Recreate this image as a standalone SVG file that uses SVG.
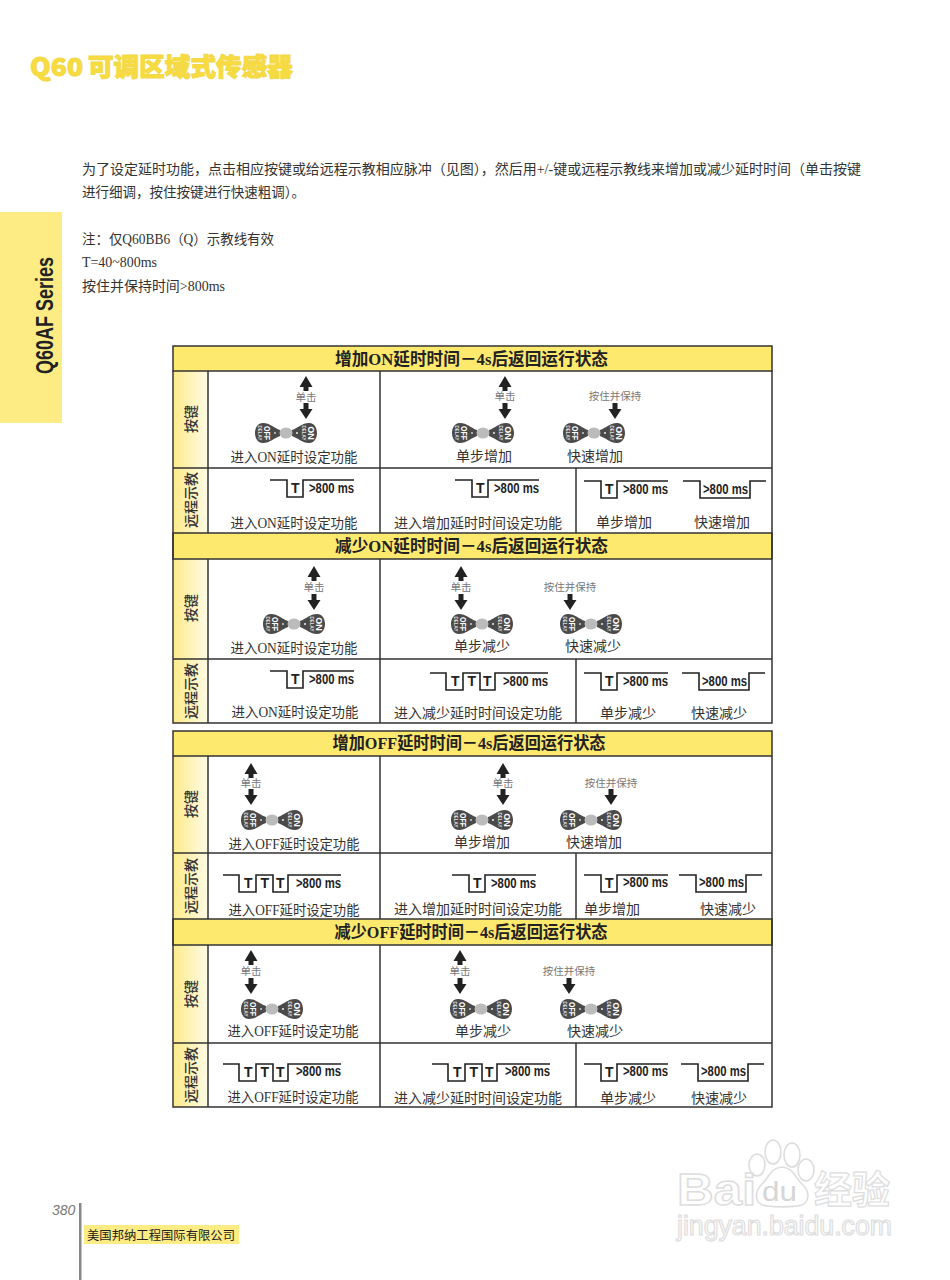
<svg xmlns="http://www.w3.org/2000/svg" width="950" height="1280" viewBox="0 0 950 1280">
<style>
text{font-family:"Liberation Serif","Noto Sans CJK SC",serif;fill:#2b2b2b}
.body{font-size:14px;fill:#333}
.cap{font-size:14px;text-anchor:middle;fill:#333}
.hd{font-size:17px;font-weight:700;text-anchor:middle;fill:#222}
.side{font-size:14px;text-anchor:middle;font-weight:500;fill:#333}
.hint{font-size:10.5px;text-anchor:middle;fill:#777}
.s{font-family:"Liberation Sans","Noto Sans CJK SC",sans-serif;font-weight:700;font-size:14px;fill:#222}
.wave{fill:none;stroke:#222;stroke-width:1.6}
.grid{fill:none;stroke:#333;stroke-width:1.5}
.hb{fill:#fee96f;stroke:#333;stroke-width:1.5}
.sb{fill:url(#fade);stroke:none}
.bo{font-family:"Liberation Sans",sans-serif;font-weight:700;font-size:9px;fill:#fff;text-anchor:middle}
.bd{font-family:"Liberation Sans",sans-serif;font-weight:700;font-size:4.5px;fill:#ddd;text-anchor:middle}
</style>
<defs>
<linearGradient id="fade" x1="0" x2="1" y1="0" y2="0"><stop offset="0" stop-color="#fdeb8c"/><stop offset="1" stop-color="#fffbe6"/></linearGradient>
<path id="p1" class="wave" d="M0 0H17V17H33V0H84"/>
<path id="p3" class="wave" d="M0 0H16V17H33V0H50V17H65V0H118"/>
<path id="pl" class="wave" d="M0 0H17V17H67V0H83"/>
<path id="au" fill="#222" d="M0 0L6.5 11H2.5V15H-2.5V11H-6.5Z"/>
<path id="ad" fill="#222" d="M0 0L-6.5-10H-2.5V-16H2.5V-10H6.5Z"/>
<g id="bb">
<path fill="#4a4a4a" d="M-6-3C-12-5-16-10-23-10C-29-10-31-4-31 0C-31 4-29 10-23 10C-16 10-12 5-6 3ZM6-3C12-5 16-10 23-10C29-10 31-4 31 0C31 4 29 10 23 10C16 10 12 5 6 3Z"/>
<ellipse cx="0" cy="0" rx="6.5" ry="5.5" fill="#bbb"/>
<circle cx="-11" cy="0" r=".9" fill="#ddd"/><circle cx="11" cy="0" r=".9" fill="#fff"/>
</g>
</defs>
<rect width="950" height="1280" fill="#fff"/>

<g id="title" stroke="#f3d84a" stroke-width="1" style="font-family:'Noto Sans CJK SC',sans-serif">
<text x="30" y="76" font-size="25" font-weight="900" style="font-family:'Noto Sans CJK SC',sans-serif;fill:#f7dc3f" textLength="53" lengthAdjust="spacingAndGlyphs">Q60</text>
<text x="88" y="76" font-size="25" font-weight="900" style="font-family:'Noto Sans CJK SC',sans-serif;fill:#f7dc3f" textLength="205" lengthAdjust="spacingAndGlyphs">可调区域式传感器</text></g>
<g id="tab"><rect x="0" y="212" width="62" height="211" fill="#fdec83"/>
<text transform="translate(53,374) rotate(-90)" style="font-family:'Liberation Sans',sans-serif;font-weight:700;font-size:24px;fill:#222" textLength="117" lengthAdjust="spacingAndGlyphs">Q60AF Series</text></g>

<g id="intro">
<text class="body" x="82" y="174" textLength="779" lengthAdjust="spacingAndGlyphs">为了设定延时功能，点击相应按键或给远程示教相应脉冲（见图），然后用+/-键或远程示教线来增加或减少延时时间（单击按键</text>
<text class="body" x="82" y="197" textLength="223" lengthAdjust="spacingAndGlyphs">进行细调，按住按键进行快速粗调）。</text>
<text class="body" x="82" y="244" textLength="192" lengthAdjust="spacingAndGlyphs">注：仅Q60BB6（Q）示教线有效</text>
<text class="body" x="82" y="267" textLength="75" lengthAdjust="spacingAndGlyphs">T=40~800ms</text>
<text class="body" x="82" y="291" textLength="143" lengthAdjust="spacingAndGlyphs">按住并保持时间&gt;800ms</text>
</g>

<g id="table-frames">
<rect class="sb" x="174" y="371" width="34" height="162"/>
<rect class="sb" x="174" y="559" width="34" height="164"/>
<rect class="sb" x="174" y="756" width="34" height="163"/>
<rect class="sb" x="174" y="945" width="34" height="162"/>
<rect class="hb" x="173" y="346" width="599" height="25"/>
<rect class="hb" x="173" y="533" width="599" height="26"/>
<rect class="hb" x="173" y="731" width="599" height="25"/>
<rect class="hb" x="173" y="919" width="599" height="26"/>
<path class="grid" d="M173 371V723H772V371M173 756V1107H772V756M173 468H772M173 659H772M173 853H772M173 1043H772M208 371V533M208 559V723M208 756V919M208 945V1107M380 371V533M380 559V723M380 756V919M380 945V1107M576 468V533M576 659V723M576 853V919M576 1043V1107"/>
</g>

<g id="headers">
<text class="hd" x="471.5" y="365" textLength="273" lengthAdjust="spacingAndGlyphs">增加ON延时时间－4s后返回运行状态</text>
<text class="hd" x="471.5" y="552" textLength="273" lengthAdjust="spacingAndGlyphs">减少ON延时时间－4s后返回运行状态</text>
<text class="hd" x="469" y="749" textLength="273" lengthAdjust="spacingAndGlyphs">增加OFF延时时间－4s后返回运行状态</text>
<text class="hd" x="471" y="938" textLength="273" lengthAdjust="spacingAndGlyphs">减少OFF延时时间－4s后返回运行状态</text>
</g>
<g id="side-labels">
<text class="side" transform="translate(196,419) rotate(-90)">按键</text>
<text class="side" transform="translate(196,500) rotate(-90)">远程示教</text>
<text class="side" transform="translate(196,608) rotate(-90)">按键</text>
<text class="side" transform="translate(196,691) rotate(-90)">远程示教</text>
<text class="side" transform="translate(196,804) rotate(-90)">按键</text>
<text class="side" transform="translate(196,886) rotate(-90)">远程示教</text>
<text class="side" transform="translate(196,994) rotate(-90)">按键</text>
<text class="side" transform="translate(196,1075) rotate(-90)">远程示教</text>
</g>

<g id="arrows">
<use href="#au" x="306" y="376"/><use href="#ad" x="306" y="419"/>
<use href="#au" x="505" y="376"/><use href="#ad" x="505" y="419"/><use href="#ad" x="615" y="419"/>
<use href="#au" x="314" y="566"/><use href="#ad" x="314" y="610"/>
<use href="#au" x="461" y="566"/><use href="#ad" x="461" y="610"/><use href="#ad" x="570" y="610"/>
<use href="#au" x="251" y="763"/><use href="#ad" x="251" y="805"/>
<use href="#au" x="503" y="763"/><use href="#ad" x="503" y="805"/><use href="#ad" x="611" y="805"/>
<use href="#au" x="251" y="950"/><use href="#ad" x="251" y="994"/>
<use href="#au" x="460" y="950"/><use href="#ad" x="460" y="994"/><use href="#ad" x="569" y="994"/>
</g>
<g id="hints">
<text class="hint" x="306" y="401">单击</text><text class="hint" x="505" y="400">单击</text><text class="hint" x="615" y="400">按住并保持</text>
<text class="hint" x="314" y="591">单击</text><text class="hint" x="461" y="591">单击</text><text class="hint" x="570" y="591">按住并保持</text>
<text class="hint" x="251" y="787">单击</text><text class="hint" x="503" y="787">单击</text><text class="hint" x="611" y="787">按住并保持</text>
<text class="hint" x="251" y="975">单击</text><text class="hint" x="460" y="975">单击</text><text class="hint" x="569" y="975">按住并保持</text>
</g>

<g id="buttons">
<g id="b1" transform="translate(286,433)"><use href="#bb"/><text class="bo" transform="translate(-22,0) rotate(90)" textLength="14" lengthAdjust="spacingAndGlyphs">OFF</text><text class="bd" transform="translate(-28,0) rotate(90)">DELAY</text><text class="bo" transform="translate(22,0) rotate(90)">ON</text><text class="bd" transform="translate(16,0) rotate(90)">DELAY</text></g>
<g id="b2" transform="translate(483,433)"><use href="#bb"/><text class="bo" transform="translate(-22,0) rotate(90)" textLength="14" lengthAdjust="spacingAndGlyphs">OFF</text><text class="bd" transform="translate(-28,0) rotate(90)">DELAY</text><text class="bo" transform="translate(22,0) rotate(90)">ON</text><text class="bd" transform="translate(16,0) rotate(90)">DELAY</text></g>
<g id="b3" transform="translate(594,433)"><use href="#bb"/><text class="bo" transform="translate(-22,0) rotate(90)" textLength="14" lengthAdjust="spacingAndGlyphs">OFF</text><text class="bd" transform="translate(-28,0) rotate(90)">DELAY</text><text class="bo" transform="translate(22,0) rotate(90)">ON</text><text class="bd" transform="translate(16,0) rotate(90)">DELAY</text></g>
<g id="b4" transform="translate(294,624)"><use href="#bb"/><text class="bo" transform="translate(-22,0) rotate(90)" textLength="14" lengthAdjust="spacingAndGlyphs">OFF</text><text class="bd" transform="translate(-28,0) rotate(90)">DELAY</text><text class="bo" transform="translate(22,0) rotate(90)">ON</text><text class="bd" transform="translate(16,0) rotate(90)">DELAY</text></g>
<g id="b5" transform="translate(482,624)"><use href="#bb"/><text class="bo" transform="translate(-22,0) rotate(90)" textLength="14" lengthAdjust="spacingAndGlyphs">OFF</text><text class="bd" transform="translate(-28,0) rotate(90)">DELAY</text><text class="bo" transform="translate(22,0) rotate(90)">ON</text><text class="bd" transform="translate(16,0) rotate(90)">DELAY</text></g>
<g id="b6" transform="translate(591,624)"><use href="#bb"/><text class="bo" transform="translate(-22,0) rotate(90)" textLength="14" lengthAdjust="spacingAndGlyphs">OFF</text><text class="bd" transform="translate(-28,0) rotate(90)">DELAY</text><text class="bo" transform="translate(22,0) rotate(90)">ON</text><text class="bd" transform="translate(16,0) rotate(90)">DELAY</text></g>
<g id="b7" transform="translate(272,820)"><use href="#bb"/><text class="bo" transform="translate(-22,0) rotate(90)" textLength="14" lengthAdjust="spacingAndGlyphs">OFF</text><text class="bd" transform="translate(-28,0) rotate(90)">DELAY</text><text class="bo" transform="translate(22,0) rotate(90)">ON</text><text class="bd" transform="translate(16,0) rotate(90)">DELAY</text></g>
<g id="b8" transform="translate(482,820)"><use href="#bb"/><text class="bo" transform="translate(-22,0) rotate(90)" textLength="14" lengthAdjust="spacingAndGlyphs">OFF</text><text class="bd" transform="translate(-28,0) rotate(90)">DELAY</text><text class="bo" transform="translate(22,0) rotate(90)">ON</text><text class="bd" transform="translate(16,0) rotate(90)">DELAY</text></g>
<g id="b9" transform="translate(591,820)"><use href="#bb"/><text class="bo" transform="translate(-22,0) rotate(90)" textLength="14" lengthAdjust="spacingAndGlyphs">OFF</text><text class="bd" transform="translate(-28,0) rotate(90)">DELAY</text><text class="bo" transform="translate(22,0) rotate(90)">ON</text><text class="bd" transform="translate(16,0) rotate(90)">DELAY</text></g>
<g id="b10" transform="translate(272,1009)"><use href="#bb"/><text class="bo" transform="translate(-22,0) rotate(90)" textLength="14" lengthAdjust="spacingAndGlyphs">OFF</text><text class="bd" transform="translate(-28,0) rotate(90)">DELAY</text><text class="bo" transform="translate(22,0) rotate(90)">ON</text><text class="bd" transform="translate(16,0) rotate(90)">DELAY</text></g>
<g id="b11" transform="translate(481,1009)"><use href="#bb"/><text class="bo" transform="translate(-22,0) rotate(90)" textLength="14" lengthAdjust="spacingAndGlyphs">OFF</text><text class="bd" transform="translate(-28,0) rotate(90)">DELAY</text><text class="bo" transform="translate(22,0) rotate(90)">ON</text><text class="bd" transform="translate(16,0) rotate(90)">DELAY</text></g>
<g id="b12" transform="translate(591,1009)"><use href="#bb"/><text class="bo" transform="translate(-22,0) rotate(90)" textLength="14" lengthAdjust="spacingAndGlyphs">OFF</text><text class="bd" transform="translate(-28,0) rotate(90)">DELAY</text><text class="bo" transform="translate(22,0) rotate(90)">ON</text><text class="bd" transform="translate(16,0) rotate(90)">DELAY</text></g>
</g>

<g id="waves">
<g transform="translate(270,480)"><use href="#p1"/><text class="s" x="21" y="13">T</text><text class="s" x="39" y="13" textLength="45" lengthAdjust="spacingAndGlyphs">&gt;800 ms</text></g>
<g transform="translate(455,480)"><use href="#p1"/><text class="s" x="21" y="13">T</text><text class="s" x="39" y="13" textLength="45" lengthAdjust="spacingAndGlyphs">&gt;800 ms</text></g>
<g transform="translate(584,481)"><use href="#p1"/><text class="s" x="21" y="13">T</text><text class="s" x="39" y="13" textLength="45" lengthAdjust="spacingAndGlyphs">&gt;800 ms</text></g>
<g transform="translate(683,481)"><use href="#pl"/><text class="s" x="20" y="13" textLength="45" lengthAdjust="spacingAndGlyphs">&gt;800 ms</text></g>

<g transform="translate(270,671)"><use href="#p1"/><text class="s" x="21" y="13">T</text><text class="s" x="39" y="13" textLength="45" lengthAdjust="spacingAndGlyphs">&gt;800 ms</text></g>
<g transform="translate(430,673)"><use href="#p3"/><text class="s" x="21" y="13">T</text><text class="s" x="37.5" y="13">T</text><text class="s" x="53" y="13">T</text><text class="s" x="73" y="13" textLength="45" lengthAdjust="spacingAndGlyphs">&gt;800 ms</text></g>
<g transform="translate(584,673)"><use href="#p1"/><text class="s" x="21" y="13">T</text><text class="s" x="39" y="13" textLength="45" lengthAdjust="spacingAndGlyphs">&gt;800 ms</text></g>
<g transform="translate(682,673)"><use href="#pl"/><text class="s" x="20" y="13" textLength="45" lengthAdjust="spacingAndGlyphs">&gt;800 ms</text></g>

<g transform="translate(223,875)"><use href="#p3"/><text class="s" x="21" y="13">T</text><text class="s" x="37.5" y="13">T</text><text class="s" x="53" y="13">T</text><text class="s" x="73" y="13" textLength="45" lengthAdjust="spacingAndGlyphs">&gt;800 ms</text></g>
<g transform="translate(452,875)"><use href="#p1"/><text class="s" x="21" y="13">T</text><text class="s" x="39" y="13" textLength="45" lengthAdjust="spacingAndGlyphs">&gt;800 ms</text></g>
<g transform="translate(584,875)"><use href="#p1"/><text class="s" x="21" y="13">T</text><text class="s" x="39" y="12" textLength="45" lengthAdjust="spacingAndGlyphs">&gt;800 ms</text></g>
<g transform="translate(679,875)"><use href="#pl"/><text class="s" x="20" y="12" textLength="45" lengthAdjust="spacingAndGlyphs">&gt;800 ms</text></g>

<g transform="translate(223,1064)"><use href="#p3"/><text class="s" x="21" y="13">T</text><text class="s" x="37.5" y="13">T</text><text class="s" x="53" y="13">T</text><text class="s" x="73" y="12" textLength="45" lengthAdjust="spacingAndGlyphs">&gt;800 ms</text></g>
<g transform="translate(432,1064)"><use href="#p3"/><text class="s" x="21" y="13">T</text><text class="s" x="37.5" y="13">T</text><text class="s" x="53" y="13">T</text><text class="s" x="73" y="12" textLength="45" lengthAdjust="spacingAndGlyphs">&gt;800 ms</text></g>
<g transform="translate(584,1064)"><use href="#p1"/><text class="s" x="21" y="13">T</text><text class="s" x="39" y="12" textLength="45" lengthAdjust="spacingAndGlyphs">&gt;800 ms</text></g>
<g transform="translate(681,1064)"><use href="#pl"/><text class="s" x="20" y="12" textLength="45" lengthAdjust="spacingAndGlyphs">&gt;800 ms</text></g>
</g>

<g id="captions">
<text class="cap" x="294" y="462" textLength="127" lengthAdjust="spacingAndGlyphs">进入ON延时设定功能</text><text class="cap" x="484" y="461">单步增加</text><text class="cap" x="595" y="461">快速增加</text>
<text class="cap" x="294" y="528" textLength="127" lengthAdjust="spacingAndGlyphs">进入ON延时设定功能</text><text class="cap" x="478" y="528">进入增加延时时间设定功能</text><text class="cap" x="624" y="527">单步增加</text><text class="cap" x="722" y="527">快速增加</text>
<text class="cap" x="294" y="653" textLength="127" lengthAdjust="spacingAndGlyphs">进入ON延时设定功能</text><text class="cap" x="482" y="651">单步减少</text><text class="cap" x="593" y="651">快速减少</text>
<text class="cap" x="295" y="717" textLength="127" lengthAdjust="spacingAndGlyphs">进入ON延时设定功能</text><text class="cap" x="478" y="718">进入减少延时时间设定功能</text><text class="cap" x="628" y="718">单步减少</text><text class="cap" x="719" y="718">快速减少</text>
<text class="cap" x="294" y="849" textLength="131" lengthAdjust="spacingAndGlyphs">进入OFF延时设定功能</text><text class="cap" x="482" y="847">单步增加</text><text class="cap" x="594" y="847">快速增加</text>
<text class="cap" x="294" y="915" textLength="131" lengthAdjust="spacingAndGlyphs">进入OFF延时设定功能</text><text class="cap" x="478" y="914">进入增加延时时间设定功能</text><text class="cap" x="612" y="914">单步增加</text><text class="cap" x="728" y="914">快速减少</text>
<text class="cap" x="293" y="1036" textLength="131" lengthAdjust="spacingAndGlyphs">进入OFF延时设定功能</text><text class="cap" x="483" y="1036">单步减少</text><text class="cap" x="595" y="1036">快速减少</text>
<text class="cap" x="293" y="1102" textLength="131" lengthAdjust="spacingAndGlyphs">进入OFF延时设定功能</text><text class="cap" x="478" y="1103">进入减少延时时间设定功能</text><text class="cap" x="628" y="1103">单步减少</text><text class="cap" x="719" y="1103">快速减少</text>
</g>

<g id="footer">
<text x="52" y="1215" style="font-family:'Liberation Sans',sans-serif;font-style:italic;font-size:14px;fill:#777">380</text>
<rect x="79" y="1203" width="2.5" height="77" fill="#888"/>
<rect x="84" y="1225" width="155" height="19" fill="#fdec83"/>
<text x="87" y="1240" style="font-family:'Noto Sans CJK SC',sans-serif;font-size:12.3px;fill:#222" textLength="148">美国邦纳工程国际有限公司</text>
</g>

<g id="watermark" fill="#fff" stroke="#ddd" stroke-width="1.6">
<ellipse cx="757" cy="1165" rx="8" ry="11"/><ellipse cx="773" cy="1152" rx="8" ry="12"/><ellipse cx="792" cy="1155" rx="8" ry="12"/><ellipse cx="806" cy="1170" rx="8" ry="11"/>
<path d="M782 1167C770 1168 769 1178 762 1184C754 1192 754 1205 767 1206C776 1207 788 1207 797 1206C810 1205 811 1192 802 1184C795 1178 794 1168 782 1167Z"/>
<text x="677" y="1205" style="font-family:'Liberation Sans',sans-serif;font-weight:700;font-size:44px;fill:#fff" stroke="#ddd" stroke-width="1.4" textLength="79" lengthAdjust="spacingAndGlyphs">Bai</text>
<text x="762" y="1201" style="font-family:'Liberation Sans',sans-serif;font-size:28px;fill:#d6d6d6" stroke="none" textLength="35" lengthAdjust="spacingAndGlyphs">du</text>
<text x="814" y="1203" style="font-family:'Noto Sans CJK SC',sans-serif;font-weight:700;font-size:38px;fill:#fff" stroke="#ddd" stroke-width="1.2">经验</text>
<text x="677" y="1235" style="font-family:'Liberation Sans',sans-serif;font-size:27px;fill:#fff" stroke="#ddd" stroke-width="1.2" textLength="215" lengthAdjust="spacingAndGlyphs">jingyan.baidu.com</text>
</g>
</svg>
